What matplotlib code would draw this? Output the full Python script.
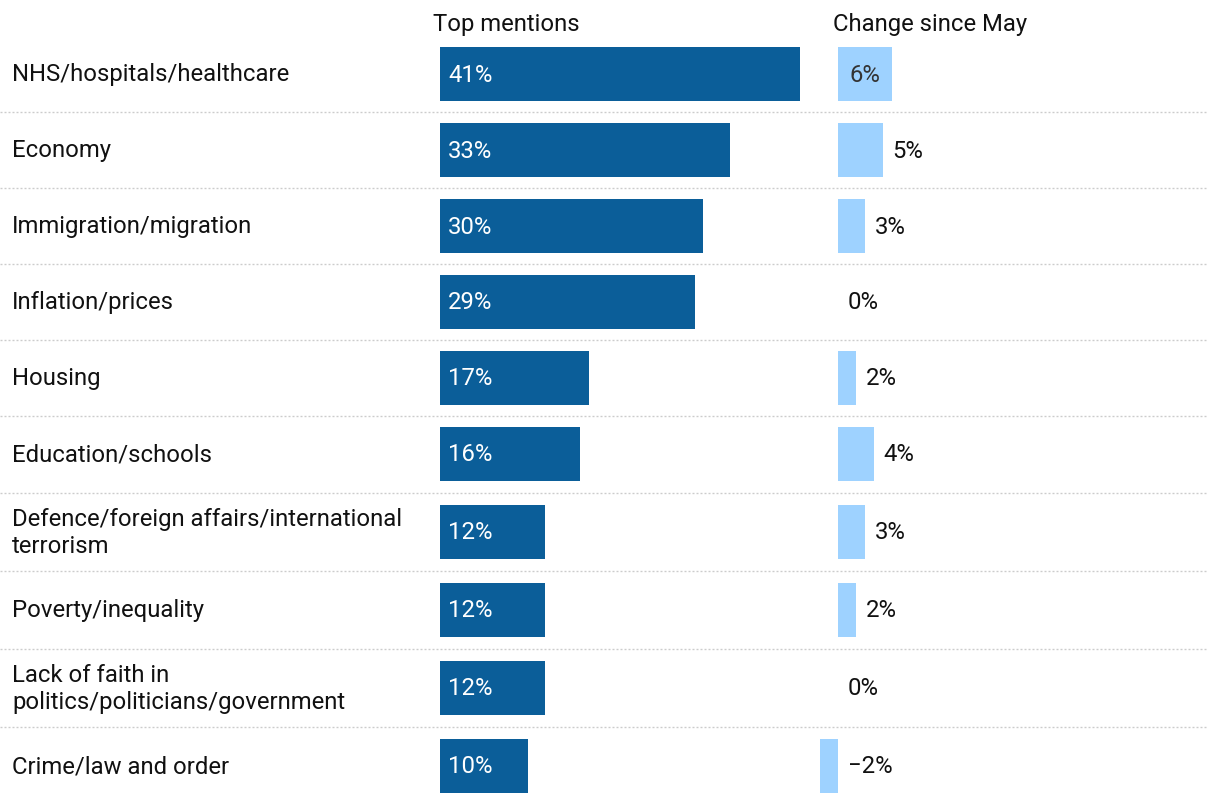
import matplotlib
matplotlib.use("Agg")
import matplotlib.pyplot as plt

plt.rcParams['font.family'] = ['Roboto', 'DejaVu Sans']

categories = [
    "NHS/hospitals/healthcare",
    "Economy",
    "Immigration/migration",
    "Inflation/prices",
    "Housing",
    "Education/schools",
    "Defence/foreign affairs/international\nterrorism",
    "Poverty/inequality",
    "Lack of faith in\npolitics/politicians/government",
    "Crime/law and order",
]
top_mentions = [41, 33, 30, 29, 17, 16, 12, 12, 12, 10]
change_since_may = [6, 5, 3, 0, 2, 4, 3, 2, 0, -2]
header_left = "Top mentions"
header_right = "Change since May"

# layout: row centres in pixels from the top (two-line rows are slightly taller)
row_y = [75, 151, 227, 303, 379, 455, 533, 611, 689, 767]
BAR_H = 54

DARK = "#0b5e99"
LIGHT = "#9ed2ff"
TXT = "#111111"
W, H = 1220, 804
fig = plt.figure(figsize=(W / 100, H / 100), dpi=100)

n = len(categories)

def frac_x(px):
    return px / W

# background axis for separators and labels
bg = fig.add_axes([0, 0, 1, 1])
bg.set_xlim(0, W)
bg.set_ylim(H, 0)
bg.axis("off")
for a, b in zip(row_y[:-1], row_y[1:]):
    y = (a + b) / 2
    bg.plot([0, 1208], [y, y], color="#cccccc", lw=1.0,
            linestyle=(0, (1.44, 1.44)))
FS = 17.2
for y, c in zip(row_y, categories):
    bg.text(12, y, c, ha="left", va="center", fontsize=FS, color=TXT,
            linespacing=1.2)

# main bars
ax1 = fig.add_axes([frac_x(440), 0, frac_x(360), 1])
ax1.set_xlim(0, 41)
ax1.set_ylim(H, 0)
ax1.axis("off")
ax1.barh(row_y, top_mentions, height=BAR_H, color=DARK)
for y, v in zip(row_y, top_mentions):
    ax1.annotate(f"{v}%", (0, y), xytext=(6, 0), textcoords="offset points",
                 ha="left", va="center", color="white", fontsize=FS)

# change bars
ppu = 9.0
ax2 = fig.add_axes([frac_x(838 - 4 * ppu), 0, frac_x(14 * ppu), 1])
ax2.set_xlim(-4, 10)
ax2.set_ylim(H, 0)
ax2.axis("off")
for a in (bg, ax1, ax2):
    a.patch.set_alpha(0)
ax2.barh(row_y, change_since_may, height=BAR_H, color=LIGHT)
vmax = max(change_since_may)
for y, v in zip(row_y, change_since_may):
    lab = f"{v}%".replace("-", "\u2212")
    if v == vmax:
        ax2.text(v / 2, y, lab, ha="center", va="center", color="#333333", fontsize=FS)
    else:
        ax2.annotate(lab, (max(v, 0), y), xytext=(7, 0), textcoords="offset points",
                     ha="left", va="center", color=TXT, fontsize=FS)

fig.text(frac_x(433), 1 - 25 / H, header_left, ha="left", va="center",
         fontsize=FS, color=TXT)
fig.text(frac_x(833), 1 - 25 / H, header_right, ha="left", va="center",
         fontsize=FS, color=TXT)

fig.savefig("out.png", dpi=100, facecolor="white")
